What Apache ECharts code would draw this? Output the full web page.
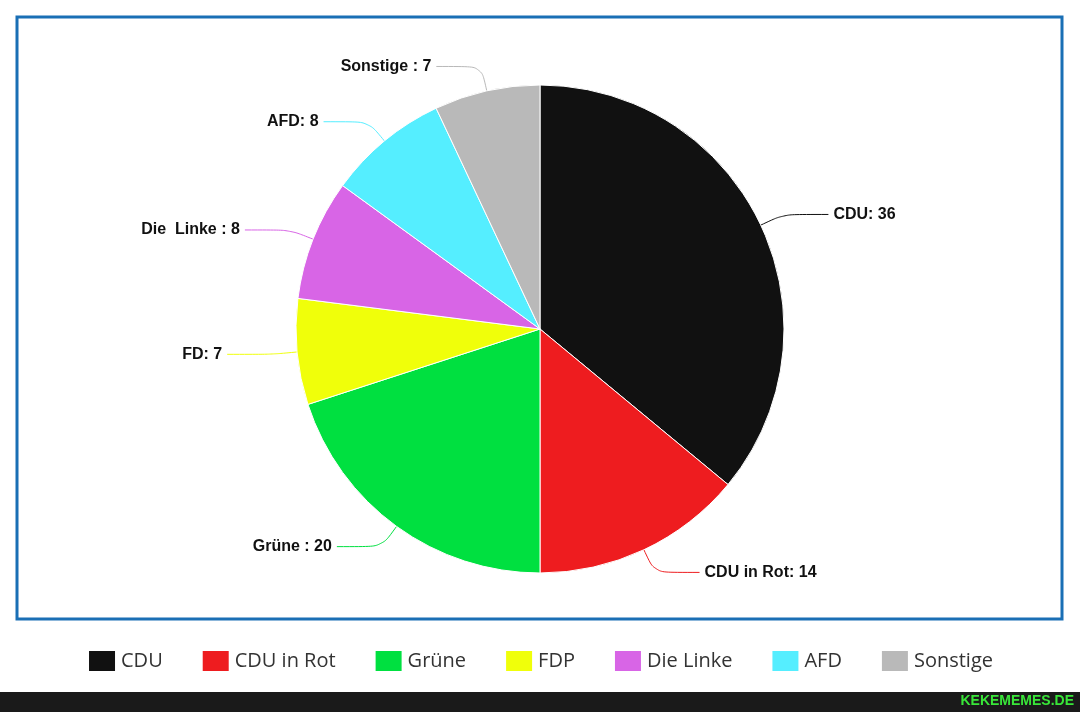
<!DOCTYPE html>
<html>
<head>
<meta charset="utf-8">
<script src="https://cdn.jsdelivr.net/npm/echarts@6/dist/echarts.min.js"></script>
<style>html,body{margin:0;padding:0;background:#fff}#main{width:1080px;height:712px}</style>
</head>
<body>
<div id="main"></div>
<script>
var names = ['CDU', 'CDU in Rot', 'Grüne', 'FDP', 'Die Linke', 'AFD', 'Sonstige'];
var labels = ['CDU: 36', 'CDU in Rot: 14', 'Grüne : 20', 'FD: 7', 'Die  Linke : 8', 'AFD: 8', 'Sonstige : 7'];
var values = [36, 14, 20, 7, 8, 8, 7];
var colors = ['#111111', '#ee1c1f', '#00e040', '#f0ff0a', '#d865e6', '#55eeff', '#b9b9b9'];

var chart = echarts.init(document.getElementById('main'));
var data = [];
for (var i = 0; i < names.length; i++) {
	data.push({ name: names[i], value: values[i], itemStyle: { color: colors[i] }, labelLine: { lineStyle: { color: colors[i] } } });
}
chart.setOption({
	backgroundColor: '#fff',
	color: colors,
	legend: {
		bottom: 34, left: 'center',
		itemWidth: 28, itemHeight: 22, itemGap: 38,
		icon: 'rect',
		textStyle: { fontSize: 20, color: '#333', fontFamily: 'Open Sans' },
		data: names
	},
	graphic: [
		{ type: 'rect', shape: { x: 17, y: 17, width: 1045, height: 602 }, style: { fill: 'none', stroke: '#1a6fb5', lineWidth: 3 } },
		{ type: 'rect', shape: { x: 0, y: 692, width: 1080, height: 20 }, style: { fill: '#1a1a1a' } },
		{ type: 'text', right: 6, top: 694, style: { text: 'KEKEMEMES.DE', fill: '#39e639', font: 'bold 14px Liberation Sans' } }
	],
	series: [{
		type: 'pie',
		center: [540, 329],
		radius: [0, 244],
		startAngle: 90,
		clockwise: true,
		data: data,
		itemStyle: { borderColor: '#fff', borderWidth: 1 },
		label: {
			formatter: function (p) { return labels[p.dataIndex]; },
			fontSize: 16, fontWeight: 'bold', color: '#111', fontFamily: 'Liberation Sans'
		},
		labelLine: { length: 25, length2: 45, smooth: true, lineStyle: { width: 1 } }
	}]
});
</script>
</body>
</html>
